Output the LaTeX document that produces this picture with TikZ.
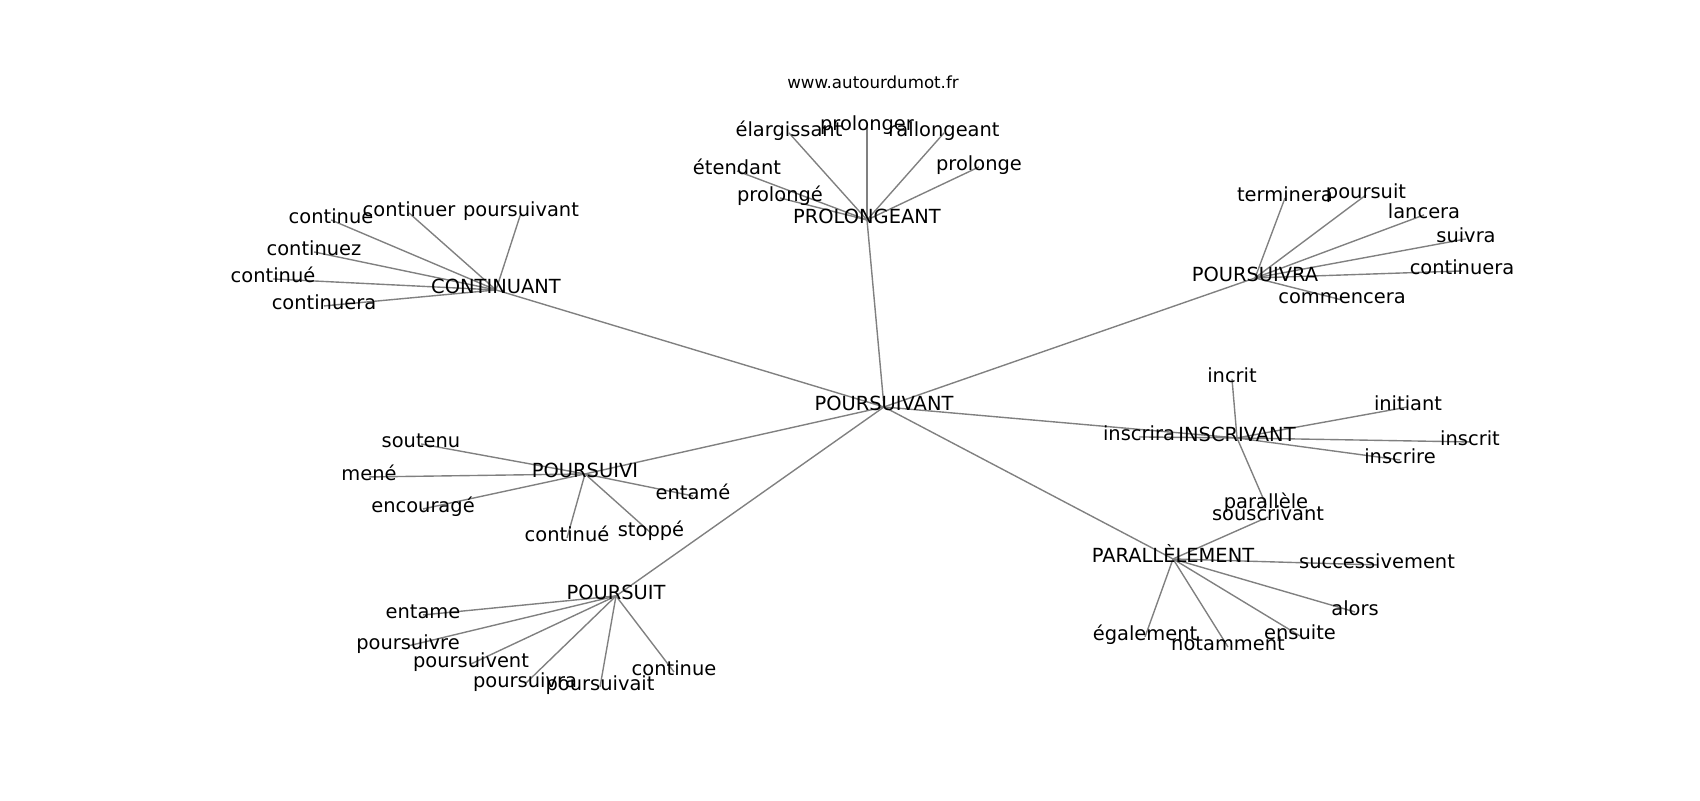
\documentclass[tikz,border=0pt]{standalone}
\usepackage{fontspec}
\setmainfont{DejaVu Sans}
\usetikzlibrary{backgrounds}

\begin{document}
\begin{tikzpicture}[x=0.72pt, y=-0.72pt, wrd/.style={inner sep = 0pt, text height = 0.76em, text depth = 0.24em, yshift = -1.4pt, font = \fontsize{14}{16}\selectfont}]
\tikzstyle{lnk}=[draw = gray, line width = 1pt]
\useasboundingbox (0,0) rectangle (1700,800);
\node[wrd, font = \fontsize{12}{14}\selectfont] (site) at (873,83) {www.autourdumot.fr};
% centre et mots principaux
\node[wrd] (poursuivant) at (884,405) {POURSUIVANT};
\node[wrd] (continuant) at (496,288) {CONTINUANT};
\node[wrd] (prolongeant) at (867,218) {PROLONGEANT};
\node[wrd] (poursuivra) at (1255,276) {POURSUIVRA};
\node[wrd] (inscrivant) at (1237,436) {INSCRIVANT};
\node[wrd] (parallelement) at (1173,557) {PARALLÈLEMENT};
\node[wrd] (poursuivi) at (585,472) {POURSUIVI};
\node[wrd] (poursuit) at (616,594) {POURSUIT};
% CONTINUANT
\node[wrd] (ct-continue) at (331,218) {continue};
\node[wrd] (ct-continuer) at (409,211) {continuer};
\node[wrd] (ct-poursuivant) at (521,211) {poursuivant};
\node[wrd] (ct-continuez) at (314,250) {continuez};
\node[wrd] (ct-continue2) at (273,277) {continué};
\node[wrd] (ct-continuera) at (324,304) {continuera};
% PROLONGEANT
\node[wrd] (pl-elargissant) at (789,131) {élargissant};
\node[wrd] (pl-prolonger) at (867,125) {prolonger};
\node[wrd] (pl-rallongeant) at (944,131) {rallongeant};
\node[wrd] (pl-etendant) at (737,169) {étendant};
\node[wrd] (pl-prolonge) at (979,165) {prolonge};
\node[wrd] (pl-prolonge2) at (780,196) {prolongé};
% POURSUIVRA
\node[wrd] (pv-terminera) at (1285,196) {terminera};
\node[wrd] (pv-poursuit) at (1366,193) {poursuit};
\node[wrd] (pv-lancera) at (1424,213) {lancera};
\node[wrd] (pv-suivra) at (1466,237) {suivra};
\node[wrd] (pv-continuera) at (1462,269) {continuera};
\node[wrd] (pv-commencera) at (1342,298) {commencera};
% INSCRIVANT
\node[wrd] (in-incrit) at (1232,377) {incrit};
\node[wrd] (in-initiant) at (1408,405) {initiant};
\node[wrd] (in-inscrit) at (1470,440) {inscrit};
\node[wrd] (in-inscrire) at (1400,458) {inscrire};
\node[wrd] (in-inscrira) at (1139,435) {inscrira};
\node[wrd] (in-parallele) at (1266,503) {parallèle};
% PARALLÈLEMENT
\node[wrd] (pa-souscrivant) at (1268,515) {souscrivant};
\node[wrd] (pa-successivement) at (1377,563) {successivement};
\node[wrd] (pa-alors) at (1355,610) {alors};
\node[wrd] (pa-ensuite) at (1300,634) {ensuite};
\node[wrd] (pa-notamment) at (1228,645) {notamment};
\node[wrd] (pa-egalement) at (1145,635) {également};
% POURSUIVI
\node[wrd] (pi-soutenu) at (421,442) {soutenu};
\node[wrd] (pi-mene) at (369,475) {mené};
\node[wrd] (pi-encourage) at (423,507) {encouragé};
\node[wrd] (pi-entame) at (693,494) {entamé};
\node[wrd] (pi-continue) at (567,536) {continué};
\node[wrd] (pi-stoppe) at (651,531) {stoppé};
% POURSUIT
\node[wrd] (pt-entame) at (423,613) {entame};
\node[wrd] (pt-poursuivre) at (408,644) {poursuivre};
\node[wrd] (pt-poursuivent) at (471,662) {poursuivent};
\node[wrd] (pt-poursuivra) at (525,682) {poursuivra};
\node[wrd] (pt-poursuivait) at (600,685) {poursuivait};
\node[wrd] (pt-continue) at (674,670) {continue};
\begin{scope}[on background layer]
\foreach \i/\j in {poursuivant/continuant, poursuivant/prolongeant, poursuivant/poursuivra, poursuivant/inscrivant, poursuivant/parallelement, poursuivant/poursuivi, poursuivant/poursuit,
  continuant/ct-continue, continuant/ct-continuer, continuant/ct-poursuivant, continuant/ct-continuez, continuant/ct-continue2, continuant/ct-continuera,
  prolongeant/pl-elargissant, prolongeant/pl-prolonger, prolongeant/pl-rallongeant, prolongeant/pl-etendant, prolongeant/pl-prolonge, prolongeant/pl-prolonge2,
  poursuivra/pv-terminera, poursuivra/pv-poursuit, poursuivra/pv-lancera, poursuivra/pv-suivra, poursuivra/pv-continuera, poursuivra/pv-commencera,
  inscrivant/in-incrit, inscrivant/in-initiant, inscrivant/in-inscrit, inscrivant/in-inscrire, inscrivant/in-inscrira, inscrivant/in-parallele,
  parallelement/pa-souscrivant, parallelement/pa-successivement, parallelement/pa-alors, parallelement/pa-ensuite, parallelement/pa-notamment, parallelement/pa-egalement,
  poursuivi/pi-soutenu, poursuivi/pi-mene, poursuivi/pi-encourage, poursuivi/pi-entame, poursuivi/pi-continue, poursuivi/pi-stoppe,
  poursuit/pt-entame, poursuit/pt-poursuivre, poursuit/pt-poursuivent, poursuit/pt-poursuivra, poursuit/pt-poursuivait, poursuit/pt-continue}{\draw[lnk] (\i.center) -- (\j.center);}
\end{scope}
\end{tikzpicture}
\end{document}
